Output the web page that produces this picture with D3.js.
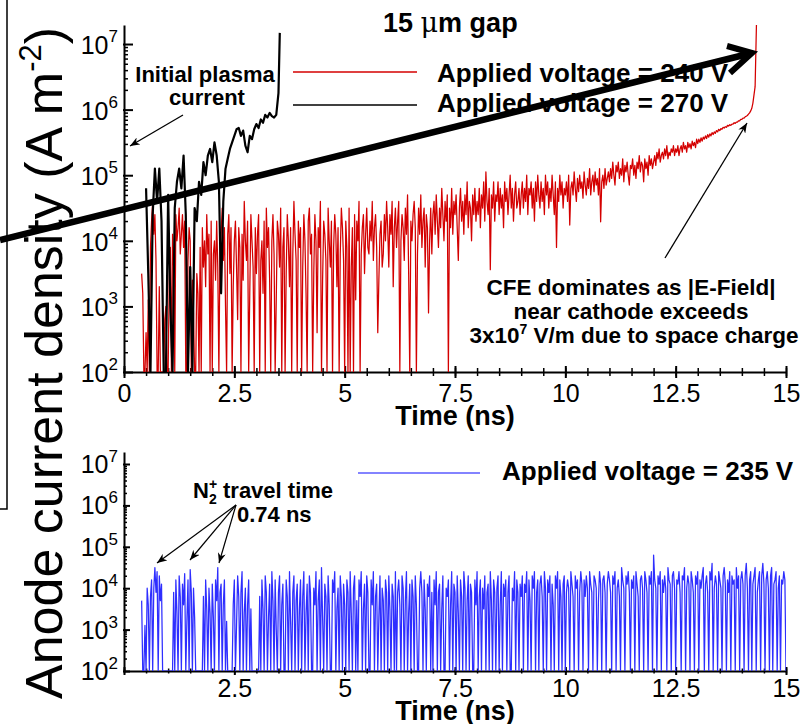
<!DOCTYPE html>
<html>
<head>
<meta charset="utf-8">
<script src="https://cdn.jsdelivr.net/npm/d3@7"></script>
<style>
  body { margin: 0; background: #fff; }
  svg { display: block; font-family: "Liberation Sans", Arial, sans-serif; }
</style>
</head>
<body>
<script>
// ---- data (log10 of anode current density, A m^-2; 2 = floor of the plot) ----
// 240 V run, sampled every 0.025 ns starting at 0.40 ns (one row = 1 ns)
const red240Start = 0.40, red240Step = 0.025;
const red240LogJ = [
  3.5,3.2,2,2,2.6,2,3.1,2,3.9,4.3,4.6,4.1,4.4,3.7,2,2,3.3,2,2,2,2,2.8,3.0,2,
  2,3.4,3.9,2,4.1,3.6,2,4.4,4.0,4.2,4.5,3.8,4.1,4.4,3.9,4.3,2,2,3.7,4.2,
  4.0,2,3.4,2.9,2,2,3.5,3.2,2,3.9,2,4.2,3.6,4.0,3.3,4.4,3.8,4.1,2,4.3,
  2,3.8,4.0,3.4,4.3,3.6,2,3.9,4.1,4.5,3.7,4.2,3.0,2,4.1,4.4,3.5,4.2,2,3.3,
  4.0,4.3,3.6,2.8,4.2,3.9,2,4.1,3.4,4.6,4.0,3.7,4.3,2,3.2,4.4,4.0,3.6,2,4.2,
  3.5,4.1,4.4,2,3.7,4.0,3.2,4.3,2,4.5,3.9,4.2,3.4,2,4.0,4.4,3.8,2,3.1,4.3,
  4.1,3.6,4.5,2,3.9,4.2,2,3.5,4.4,4.0,3.3,4.2,2,3.8,4.6,4.1,3.7,2,4.3,3.9,
  4.2,2,3.6,4.4,4.0,3.2,2,4.3,4.5,3.8,4.1,2,3.5,4.4,4.0,2.6,4.2,3.9,4.6,2,
  3.4,4.3,4.1,3.7,2,4.5,4.0,3.6,4.3,2,3.9,4.4,4.1,3.3,4.2,2,3.8,4.5,4.2,3.7,
  2,4.3,3.9,2,4.5,2,3.6,4.2,2,4.4,3.1,4.3,4.0,4.6,2,3.8,4.2,4.4,3.5,4.1,
  4.5,3.9,3.8,4.3,4.0,4.6,3.7,4.2,4.4,3.9,2.6,3.4,4.1,4.3,3.6,3.8,4.4,4.0,4.6,4.2,
  3.6,4.4,4.1,4.6,3.3,4.2,4.5,3.9,4.3,4.6,2,4.0,4.4,4.2,3.7,4.5,4.1,4.7,3.5,2,
  4.3,4.0,4.4,4.6,4.2,2,3.8,4.5,4.1,4.7,3.9,4.3,4.5,3.6,4.4,4.2,2.9,4.0,4.5,3.8,
  4.4,4.6,4.1,4.7,4.3,3.9,4.5,4.2,4.8,4.4,4.0,4.6,4.3,4.7,2,4.5,4.2,4.8,4.1,4.6,
  4.4,4.7,4.2,3.7,4.5,4.8,4.3,4.6,4.1,4.7,4.4,4.9,4.2,4.6,4.5,4.0,4.7,4.4,4.8,4.3,
  4.6,4.4,4.8,4.2,4.7,4.5,4.9,4.3,5.05,4.6,4.4,4.8,3.56,4.7,4.5,4.9,4.3,4.7,4.6,4.9,
  4.4,4.8,4.5,4.7,4.2,4.9,4.6,4.8,4.4,4.7,5.0,4.5,4.8,4.3,4.7,4.9,4.5,4.6,4.8,4.4,
  4.7,4.9,4.5,4.8,4.6,5.0,4.4,4.8,4.7,4.9,4.5,4.8,4.3,4.9,4.6,5.0,4.7,4.5,4.9,4.6,
  4.8,4.4,5.0,4.7,4.9,4.5,4.8,4.6,5.0,4.7,4.4,4.9,3.9,4.8,4.6,5.0,4.7,4.9,4.5,4.8,
  4.7,4.9,4.6,5.0,4.24,4.8,4.9,4.7,5.05,4.8,4.6,4.95,4.75,5.0,4.8,4.9,4.65,5.05,4.85,4.7,
  4.95,4.8,5.1,4.7,4.9,5.0,4.75,5.05,4.85,4.95,4.7,5.1,4.29,4.9,5.0,4.8,5.1,4.85,4.95,5.05,
  4.9,5.1,4.95,5.2,5.0,4.85,5.15,5.05,5.2,4.95,5.1,5.0,5.25,4.9,5.15,5.05,5.2,5.0,4.85,5.15,
  5.1,5.25,5.0,5.15,4.95,5.2,5.1,5.3,5.05,5.2,5.15,4.9,5.25,5.1,5.2,5.0,5.3,5.15,5.25,5.1,
  5.2,5.3,5.15,5.35,5.25,5.4,5.2,5.3,5.35,5.25,5.4,5.3,5.45,5.25,5.35,5.3,5.4,5.35,5.45,5.3,
  5.4,5.35,5.45,5.3,5.4,5.45,5.35,5.5,5.4,5.45,5.35,5.5,5.42,5.48,5.4,5.52,5.45,5.5,5.42,5.55,
  5.48,5.55,5.5,5.57,5.52,5.58,5.55,5.6,5.56,5.62,5.58,5.63,5.6,5.65,5.62,5.66,5.64,5.68,5.66,5.7,
  5.68,5.71,5.7,5.73,5.72,5.74,5.73,5.76,5.75,5.77,5.76,5.78,5.78,5.8,5.79,5.81,5.81,5.83,5.83,5.85,
  5.85,5.87,5.87,5.89,5.9,5.91,5.93,5.95,5.98,6.02,6.1
];
const red240Tail = [[14.30, 6.35], [14.34, 7.6]];

// 270 V run, sampled every 0.05 ns starting at 0.50 ns
const black270Start = 0.50, black270Step = 0.05;
const black270LogJ = [
  4.8,3.5,2,4.4,5.1,4.6,5.1,4.3,2,2,
  4.7,3.0,2,4.5,4.9,5.1,4.8,5.3,4.4,2,3.6,2,4.5,4.3,4.9,4.7,5.2,5.0,5.3,5.4,
  5.2,5.5,5.3,4.9,3.2,4.6,5.1,5.25,5.4,5.5,5.6,5.7,5.72,5.6,5.68,5.45,5.35,5.6,5.55,5.7,
  5.78,5.72,5.85,5.8,5.92,5.88,5.95,5.9,5.88,5.92
];
const black270Tail = [[3.50, 6.25], [3.53, 7.17]];

// 235 V run, sampled every 0.025 ns starting at 0.40 ns (one row = 1 ns)
const blue235Start = 0.40, blue235Step = 0.025;
const blue235LogJ = [
  3.7,2,2,3.1,2,4.0,3.6,2,3.8,4.2,2,4.0,4.5,3.9,4.4,2,4.3,3.7,4.1,2,2,2,2,2,
  2,2,2,2,2,3.9,2,4.2,3.4,2,4.3,3.8,2,4.1,3.6,4.35,2,3.2,4.2,2,
  4.45,3.9,2,4.0,3.3,2,2,2,2,2,2,2,3.8,2,4.2,3.5,2,4.0,3.4,2,
  4.1,3.3,2,4.2,3.7,4.5,2,3.9,4.1,2,3.6,4.2,2,3.2,2,2,2,2,2,3.6,
  4.2,2,3.1,4.3,3.8,2,3.9,4.4,2,3.4,4.0,2,3.6,4.2,2,3.5,2,2,2,2,
  2,2,2,3.8,2,4.2,3.5,2,4.3,3.9,2,3.3,4.1,2,4.4,3.7,2,4.2,3.0,2,
  3.9,4.3,2,3.6,4.1,2,2,4.2,3.8,2,4.4,3.2,2,3.9,4.3,2,3.7,4.1,2,3.5,
  4.2,2,3.8,4.4,2,3.4,4.1,2,4.3,3.9,2,2,4.0,3.6,4.4,2,3.7,4.2,2,4.5,
  3.3,2,4.1,3.8,2,4.3,3.6,2,2,4.2,3.9,4.4,2,3.5,4.0,2,4.3,3.8,2,4.1,
  3.6,2,4.2,3.9,2,4.4,3.4,2,4.0,4.3,2,3.7,2,4.2,3.8,4.4,2,3.5,4.1,2,
  4.3,3.9,2,2,4.2,3.6,4.4,2,3.8,4.1,2,3.3,4.3,2,4.0,3.7,2,4.2,3.9,2,
  4.3,3.5,2,4.1,3.8,2,4.4,2,3.9,4.2,3.6,2,4.3,4.0,2,3.7,4.4,2,3.4,4.1,
  2,4.2,3.8,2,4.3,3.6,2,2,4.0,4.4,3.9,2,4.2,3.5,2,4.1,3.8,4.3,2,3.9,
  2,4.2,3.6,4.4,2,3.9,4.1,2,3.5,4.3,2,2,4.0,3.8,4.2,2,3.6,4.4,2,4.1,
  3.9,2,4.3,3.4,2,4.2,3.8,2,4.4,4.0,2,3.7,4.3,2,4.1,3.9,2,2,4.2,3.6,
  4.4,2,3.8,4.2,2,4.0,3.5,4.3,2,3.9,4.1,2,4.4,3.7,2,4.2,3.9,2,4.0,4.3,
  2,3.6,4.4,2,4.1,3.8,4.2,2,3.9,4.3,2,2,4.0,3.7,4.4,2,4.2,3.9,2,4.1,
  3.8,4.3,2,4.1,3.9,4.4,2,4.2,3.7,2,4.3,4.0,4.4,2,3.9,4.2,2,4.1,4.3,3.8,
  2,4.4,4.0,2,4.2,3.9,4.3,2,4.1,3.6,2,4.3,4.0,4.4,2,4.2,3.8,2,4.1,4.3,
  2,3.9,4.2,4.0,2,4.4,4.1,3.8,2,4.3,4.0,4.2,2,3.9,4.4,4.1,2,4.2,3.8,4.3,
  4.0,2,4.4,4.1,3.9,2,4.3,4.2,4.0,2,3.7,4.4,4.1,2,4.2,4.3,3.9,2,4.1,4.4,
  4.2,3.9,2,4.3,4.1,4.4,2,4.0,4.2,3.8,2,4.5,4.2,4.0,2,4.3,4.1,4.4,3.9,2,
  4.2,4.0,4.3,2,4.4,4.1,3.8,2,4.2,4.3,4.0,2,4.4,4.2,3.9,2,4.3,4.1,4.4,2,
  4.8,4.2,4.0,2,4.3,4.1,4.4,2,4.2,3.9,4.3,4.0,2,4.5,4.2,4.1,2,4.3,4.4,4.0,
  2,4.2,4.1,4.4,3.9,2,4.3,4.2,4.5,2,4.0,4.3,4.1,2,4.4,4.2,3.9,2,4.3,4.1,
  4.4,2,4.2,4.0,4.3,4.5,2,4.1,4.3,3.9,2,4.4,4.2,4.6,2,4.0,4.3,4.1,2,4.4,
  4.2,4.0,2,4.3,4.5,4.1,2,4.2,3.9,4.4,2,4.3,4.1,4.2,2,4.5,4.0,4.3,2,4.2,
  4.4,4.1,2,4.3,4.6,4.0,2,4.2,4.4,2,4.1,4.3,4.5,2,3.9,4.2,4.4,2,4.3,4.6,
  4.1,2,4.2,4.4,4.0,2,4.3,4.5,2,4.1,4.2,4.4,2,4.0,4.3,2,4.2,4.1,4.4,4.2,
  2
];

const xTickValues = [0, 2.5, 5, 7.5, 10, 12.5, 15];
const xTickLabels = ["0", "2.5", "5", "7.5", "10", "12.5", "15"];
const yDecades = [2, 3, 4, 5, 6, 7];

const seriesNames = ["Applied voltage = 240 V", "Applied voltage = 270 V", "Applied voltage = 235 V"];

function toPoints(start, step, logs, tail) {
  const pts = logs.map((e, i) => [start + i * step, Math.pow(10, e)]);
  (tail || []).forEach(p => pts.push([p[0], Math.pow(10, p[1])]));
  return pts;
}
const red240 = toPoints(red240Start, red240Step, red240LogJ, red240Tail);
const black270 = toPoints(black270Start, black270Step, black270LogJ, black270Tail);
const blue235 = toPoints(blue235Start, blue235Step, blue235LogJ);

// ---- layout ----
const svg = d3.select("body").append("svg").attr("width", 806).attr("height", 724);

const x = d3.scaleLinear().domain([0, 15]).range([124, 786]);
const yTop = d3.scaleLog().domain([1e2, Math.pow(10, 7.29)]).range([372, 25]);
const yBot = d3.scaleLog().domain([1e2, Math.pow(10, 7.29)]).range([671, 452]);

function isDecade(v) {
  const l = Math.log10(v);
  return Math.abs(l - Math.round(l)) < 1e-6;
}

function drawAxes(y, o) {
  const base = y.range()[0];
  const g = svg.append("g");

  // x minor ticks
  const xm = g.append("g").attr("transform", `translate(0,${base})`)
    .call(d3.axisBottom(x).tickValues(x.ticks(30)).tickSize(o.xMinor).tickSizeOuter(0).tickFormat(""));
  xm.select(".domain").remove();
  xm.selectAll(".tick line").attr("y1", -o.xMinor).attr("stroke-width", 1.5);

  // x major ticks + labels
  const xM = g.append("g").attr("transform", `translate(0,${base})`)
    .call(d3.axisBottom(x).tickValues(xTickValues).tickSize(o.xMajor).tickSizeOuter(0)
      .tickFormat((d, i) => (o.skipZero && d === 0) ? "" : xTickLabels[i]));
  xM.attr("font-family", null).attr("font-size", null);
  xM.select(".domain").attr("stroke-width", 2);
  xM.selectAll(".tick line").attr("y1", -o.xMajor).attr("stroke-width", 2);
  xM.selectAll(".tick text").attr("y", o.xLabelY).attr("dy", 0)
    .attr("font-size", 25).attr("fill", "#000");

  // y minor ticks
  const minors = y.ticks().filter(v => !isDecade(v));
  const ym = g.append("g").attr("transform", "translate(124,0)")
    .call(d3.axisLeft(y).tickValues(minors).tickSize(-o.yMinor).tickSizeOuter(0).tickFormat(""));
  ym.select(".domain").remove();
  ym.selectAll(".tick line").attr("stroke-width", 1.5);

  // y major ticks
  const yM = g.append("g").attr("transform", "translate(124,0)")
    .call(d3.axisLeft(y).tickValues(yDecades.map(e => Math.pow(10, e))).tickSize(-o.yMajor)
      .tickSizeOuter(0).tickFormat(""));
  yM.select(".domain").attr("stroke-width", 2);
  yM.selectAll(".tick line").attr("x1", -1).attr("stroke-width", 2);

  // y labels: 10^n
  yDecades.forEach(e => {
    const t = g.append("text").attr("x", 118).attr("y", y(Math.pow(10, e)) + o.yLabelDy)
      .attr("text-anchor", "end").attr("font-size", 25);
    t.append("tspan").text("10");
    t.append("tspan").attr("font-size", 17).attr("dy", -o.supDy).text(e);
  });

  // axis title
  g.append("text").attr("x", 455).attr("y", o.titleY).attr("text-anchor", "middle")
    .attr("font-size", 27).attr("font-weight", "bold").text("Time (ns)");
}

drawAxes(yTop, { xMinor: 4, xMajor: 6, yMinor: 4, yMajor: 9, skipZero: false, xLabelY: 30, yLabelDy: 10, supDy: 12, titleY: 425 });
drawAxes(yBot, { xMinor: 2.5, xMajor: 4, yMinor: 3, yMajor: 6, skipZero: true, xLabelY: 26, yLabelDy: 9, supDy: 11, titleY: 720 });

// ---- clip paths and arrow marker ----
const defs = svg.append("defs");
defs.append("clipPath").attr("id", "clipTop").append("rect")
  .attr("x", 124).attr("y", 25).attr("width", 662).attr("height", 347);
defs.append("clipPath").attr("id", "clipBot").append("rect")
  .attr("x", 124).attr("y", 452).attr("width", 662).attr("height", 219);

defs.append("marker").attr("id", "head").attr("viewBox", "0 0 10 8")
  .attr("refX", 10).attr("refY", 4).attr("markerWidth", 10).attr("markerHeight", 8)
  .attr("markerUnits", "userSpaceOnUse").attr("orient", "auto")
  .append("path").attr("d", "M0,0 L10,4 L0,8 L3,4 Z").attr("fill", "#000");

// ---- series ----
const lineTop = d3.line().x(d => x(d[0])).y(d => yTop(d[1]));
const lineBot = d3.line().x(d => x(d[0])).y(d => yBot(d[1]));

svg.append("path").datum(red240).attr("clip-path", "url(#clipTop)")
  .attr("fill", "none").attr("stroke", "#d40000").attr("stroke-width", 1.25)
  .attr("stroke-linejoin", "round").attr("d", lineTop);
svg.append("path").datum(black270).attr("clip-path", "url(#clipTop)")
  .attr("fill", "none").attr("stroke", "#000").attr("stroke-width", 2.2)
  .attr("stroke-linejoin", "round").attr("d", lineTop);
svg.append("path").datum(blue235).attr("clip-path", "url(#clipBot)")
  .attr("fill", "none").attr("stroke", "#2e2eff").attr("stroke-width", 1.25)
  .attr("stroke-linejoin", "round").attr("d", lineBot);

// ---- legends ----
function legendRow(y0, color, label, lx0, lx1, tx, ty) {
  svg.append("line").attr("x1", lx0).attr("x2", lx1).attr("y1", y0).attr("y2", y0)
    .attr("stroke", color).attr("stroke-width", 1.3);
  svg.append("text").attr("x", tx).attr("y", ty).attr("font-size", 26)
    .attr("font-weight", "bold").text(label);
}
legendRow(72, "#d40000", seriesNames[0], 293, 417, 437, 82);
legendRow(105, "#000", seriesNames[1], 293, 417, 437, 112);
legendRow(473, "#5a5aff", seriesNames[2], 358, 480, 502, 480);

// ---- annotations ----
const title = svg.append("text").attr("x", 383).attr("y", 32).attr("font-size", 27).attr("font-weight", "bold");
title.append("tspan").text("15 ");
title.append("tspan").attr("font-family", "'DejaVu Serif', 'Liberation Serif', serif").attr("font-weight", "normal").text("\u03bc");
title.append("tspan").text("m gap");

svg.append("text").attr("x", 205).attr("y", 82).attr("text-anchor", "middle")
  .attr("font-size", 22).attr("font-weight", "bold").text("Initial plasma");
svg.append("text").attr("x", 207).attr("y", 105).attr("text-anchor", "middle")
  .attr("font-size", 22).attr("font-weight", "bold").text("current");
svg.append("line").attr("x1", 183).attr("y1", 115).attr("x2", 130).attr("y2", 146)
  .attr("stroke", "#000").attr("stroke-width", 1.3).attr("marker-end", "url(#head)");

svg.append("text").attr("x", 631).attr("y", 295).attr("text-anchor", "middle")
  .attr("font-size", 22.5).attr("font-weight", "bold").text("CFE dominates as |E-Field|");
svg.append("text").attr("x", 631).attr("y", 319).attr("text-anchor", "middle")
  .attr("font-size", 22.5).attr("font-weight", "bold").text("near cathode exceeds");
const cfe3 = svg.append("text").attr("x", 634).attr("y", 343).attr("text-anchor", "middle")
  .attr("font-size", 22.5).attr("font-weight", "bold");
cfe3.append("tspan").text("3x10");
cfe3.append("tspan").attr("font-size", 14).attr("dy", -9).text("7");
cfe3.append("tspan").attr("dy", 9).text(" V/m due to space charge");
svg.append("line").attr("x1", 665).attr("y1", 258).attr("x2", 747).attr("y2", 123)
  .attr("stroke", "#000").attr("stroke-width", 1.3).attr("marker-end", "url(#head)");

const n2 = svg.append("text").attr("x", 193).attr("y", 498).attr("font-size", 22).attr("font-weight", "bold");
n2.append("tspan").text("N");
n2.append("tspan").attr("font-size", 14).attr("dy", -9).text("+");
n2.append("tspan").attr("font-size", 14).attr("dx", -8).attr("dy", 15).text("2");
n2.append("tspan").attr("dy", -6).text(" travel time");
svg.append("text").attr("x", 237).attr("y", 522).attr("font-size", 22).attr("font-weight", "bold").text("0.74 ns");
[[157, 563], [190, 560], [219, 563]].forEach(p => {
  svg.append("line").attr("x1", 236).attr("y1", 505).attr("x2", p[0]).attr("y2", p[1])
    .attr("stroke", "#000").attr("stroke-width", 1.2).attr("marker-end", "url(#head)");
});

// ---- y axis title and frame ----
const yt = svg.append("text").attr("transform", "translate(62,363) rotate(-90)")
  .attr("text-anchor", "middle").attr("font-size", 52);
yt.append("tspan").text("Anode current density (A m");
yt.append("tspan").attr("font-size", 31).attr("dy", -21).text("-2");
yt.append("tspan").attr("dy", 21).text(")");

svg.append("path").attr("d", "M0,509 H7 V0").attr("fill", "none").attr("stroke", "#000").attr("stroke-width", 1.5);

// ---- big trend arrow ----
svg.append("line").attr("x1", 0).attr("y1", 240).attr("x2", 750).attr("y2", 53.5)
  .attr("stroke", "#000").attr("stroke-width", 6.5);
svg.append("path").attr("d", "M727,46 L752,53 L730,73").attr("fill", "none")
  .attr("stroke", "#000").attr("stroke-width", 6).attr("stroke-linejoin", "miter");
</script>
</body>
</html>
